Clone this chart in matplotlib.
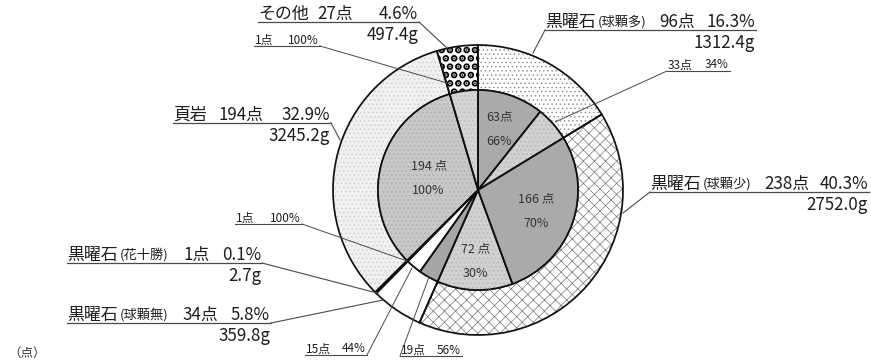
import matplotlib
matplotlib.use("Agg")
import matplotlib.pyplot as plt
import numpy as np

plt.rcParams['font.family'] = ['Noto Sans CJK JP', 'DejaVu Sans']

# outer ring, clockwise from 12 o'clock
names = ['黒曜石', '黒曜石', '黒曜石', '黒曜石', '頁岩', 'その他']
subtypes = ['(球顆多)', '(球顆少)', '(球顆無)', '(花十勝)', '', '']
counts = [96, 238, 34, 1, 194, 27]
shares = ['16.3%', '40.3%', '5.8%', '0.1%', '32.9%', '4.6%']
weights = ['1312.4g', '2752.0g', '359.8g', '2.7g', '3245.2g', '497.4g']

# inner pie, breakdown of each outer category
inner_counts = [63, 33, 166, 72, 19, 15, 1, 194, 27]
inner_labels = ['63点', '33点', '166 点', '72 点', '19点', '15点', '1点', '194 点', '1点']
inner_pcts = ['66%', '34%', '70%', '30%', '56%', '44%', '100%', '100%', '100%']

unit_label = '（点）'

# ---- layout (pixel coordinates of the 871x360 canvas) ----
CX, CY = 478, 190
R_OUT, R_IN = 145, 100

outer_faces = ['white', 'white', 'white', 'black', '#f1f1f1', 'white']
outer_hatch = ['....', 'xxx', '', '', '....', '..']
outer_hcol = ['#8a8a8a', '#777777', 'none', 'none', '#c4c4c4', 'black']
outer_hlw = [0.5, 0.5, 0.5, 0.5, 0.4, 3.5]

inner_faces = ['#aaaaaa', '#d2d2d2', '#aaaaaa', '#d2d2d2', '#a6a6a6', 'white',
               'black', '#c9c9c9', '#d6d6d6']
inner_hatch = ['', '....', '', '....', '', '', '', '....', '....']
inner_hcol = ['none', '#bdbdbd', 'none', '#bdbdbd', 'none', 'none', 'none',
              '#b5b5b5', '#c4c4c4']

# big label boxes: left, right (underline), underline y, right edge of count
big_pos = [(545, 756, 30, 695), (650, 869, 192, 809), (67, 271, 323, 218),
           (67, 262, 263, 210), (173, 331, 123, 263), (258, 419, 22, 353)]
big_leader = [(545, 30, 533, 53), (650, 192, 623, 213), (271, 323, 383, 300),
              (262, 263, 377, 293), (331, 123, 340, 140), (419, 22, 447, 48)]

# inner labels drawn inside: index -> radius of text pair centre
inside = {0: 65, 2: 62, 3: 71, 7: 51}
# inner labels drawn outside: index -> (left, right, underline y, leader start x, end x, end y)
outside = {1: (667, 730, 71, 667, 555, 122), 4: (400, 462, 356, 400, 429, 277),
           5: (305, 367, 355, 367, 412, 268), 6: (235, 302, 224, 302, 407, 261),
           8: (254, 320, 46, 320, 447, 83)}

fig = plt.figure(figsize=(8.71, 3.6), dpi=100)
ax = fig.add_axes([0, 0, 1, 1])


def ring(values, radius, width, faces, hatches, hcols, hlws=None):
    kw = dict(radius=radius, center=(CX, CY), startangle=-90, counterclock=True)
    wp = dict(linewidth=0, edgecolor='none')
    if width:
        wp['width'] = width
    ax.pie(values, colors=faces, wedgeprops=dict(wp), **kw)
    tex, _ = ax.pie(values, colors=['none'] * len(values), wedgeprops=dict(wp), **kw)
    for i, w in enumerate(tex):
        if hatches[i]:
            w.set_hatch(hatches[i])
            w.set_edgecolor(hcols[i])
            w.set_linewidth(0)
            if hlws is not None and hasattr(w, 'set_hatch_linewidth'):
                w.set_hatch_linewidth(hlws[i])
    wp2 = dict(linewidth=1.25, edgecolor='#111111')
    if width:
        wp2['width'] = width
    ax.pie(values, colors=['none'] * len(values), wedgeprops=wp2, **kw)


ring(counts, R_OUT, R_OUT - R_IN, outer_faces, outer_hatch, outer_hcol, outer_hlw)
ring(inner_counts, R_IN, None, inner_faces, inner_hatch, inner_hcol)

ax.set_xlim(0, 871)
ax.set_ylim(360, 0)
ax.set_aspect('equal')
ax.axis('off')

fig.canvas.draw()
renderer = fig.canvas.get_renderer()

txt = '#1e1e1e'
line_col = '#4a4a4a'

# outer category labels
for i in range(len(counts)):
    left, right, yu, cr = big_pos[i]
    t = ax.text(left, yu - 3, names[i], fontsize=12.2, color=txt, va='baseline', ha='left')
    if subtypes[i]:
        bb = t.get_window_extent(renderer)
        x_sub = ax.transData.inverted().transform((bb.x1, 0))[0]
        ax.text(x_sub + 2, yu - 4, subtypes[i], fontsize=9.5, color=txt,
                va='baseline', ha='left')
    ax.text(cr, yu - 3, f'{counts[i]}点', fontsize=12.2, color=txt, va='baseline', ha='right')
    ax.text(right - 1, yu - 3, shares[i], fontsize=12.2, color=txt, va='baseline', ha='right')
    ax.text(right - 1, yu + 18, weights[i], fontsize=12.2, color=txt, va='baseline', ha='right')
    ax.plot([left, right], [yu, yu], color=line_col, lw=0.9)
    x0, y0, x1, y1 = big_leader[i]
    ax.plot([x0, x1], [y0, y1], color=line_col, lw=0.8)

# inner labels
total = sum(inner_counts)
cum = np.cumsum([0] + inner_counts)
for i in range(len(inner_counts)):
    if i in inside:
        mid = (cum[i] + cum[i + 1]) / 2
        ang = np.deg2rad(90 - 360 * mid / total)
        r = inside[i]
        x = CX + r * np.cos(ang)
        y = CY - r * np.sin(ang)
        ax.text(x, y - 12, inner_labels[i], fontsize=9, color='#333333', ha='center', va='center')
        ax.text(x, y + 13, inner_pcts[i], fontsize=9, color='#333333', ha='center', va='center')
    elif i in outside:
        left, right, yu, sx, ex, ey = outside[i]
        ax.text(left + 1, yu - 2.5, inner_labels[i], fontsize=8.5, color=txt, va='baseline', ha='left')
        ax.text(right - 1, yu - 2.5, inner_pcts[i], fontsize=8.5, color=txt, va='baseline', ha='right')
        ax.plot([left, right], [yu, yu], color=line_col, lw=0.8)
        ax.plot([sx, ex], [yu, ey], color=line_col, lw=0.7)

ax.text(8, 353, unit_label, fontsize=9, color='#333333', ha='left', va='center')

fig.savefig('out.png', dpi=100)
